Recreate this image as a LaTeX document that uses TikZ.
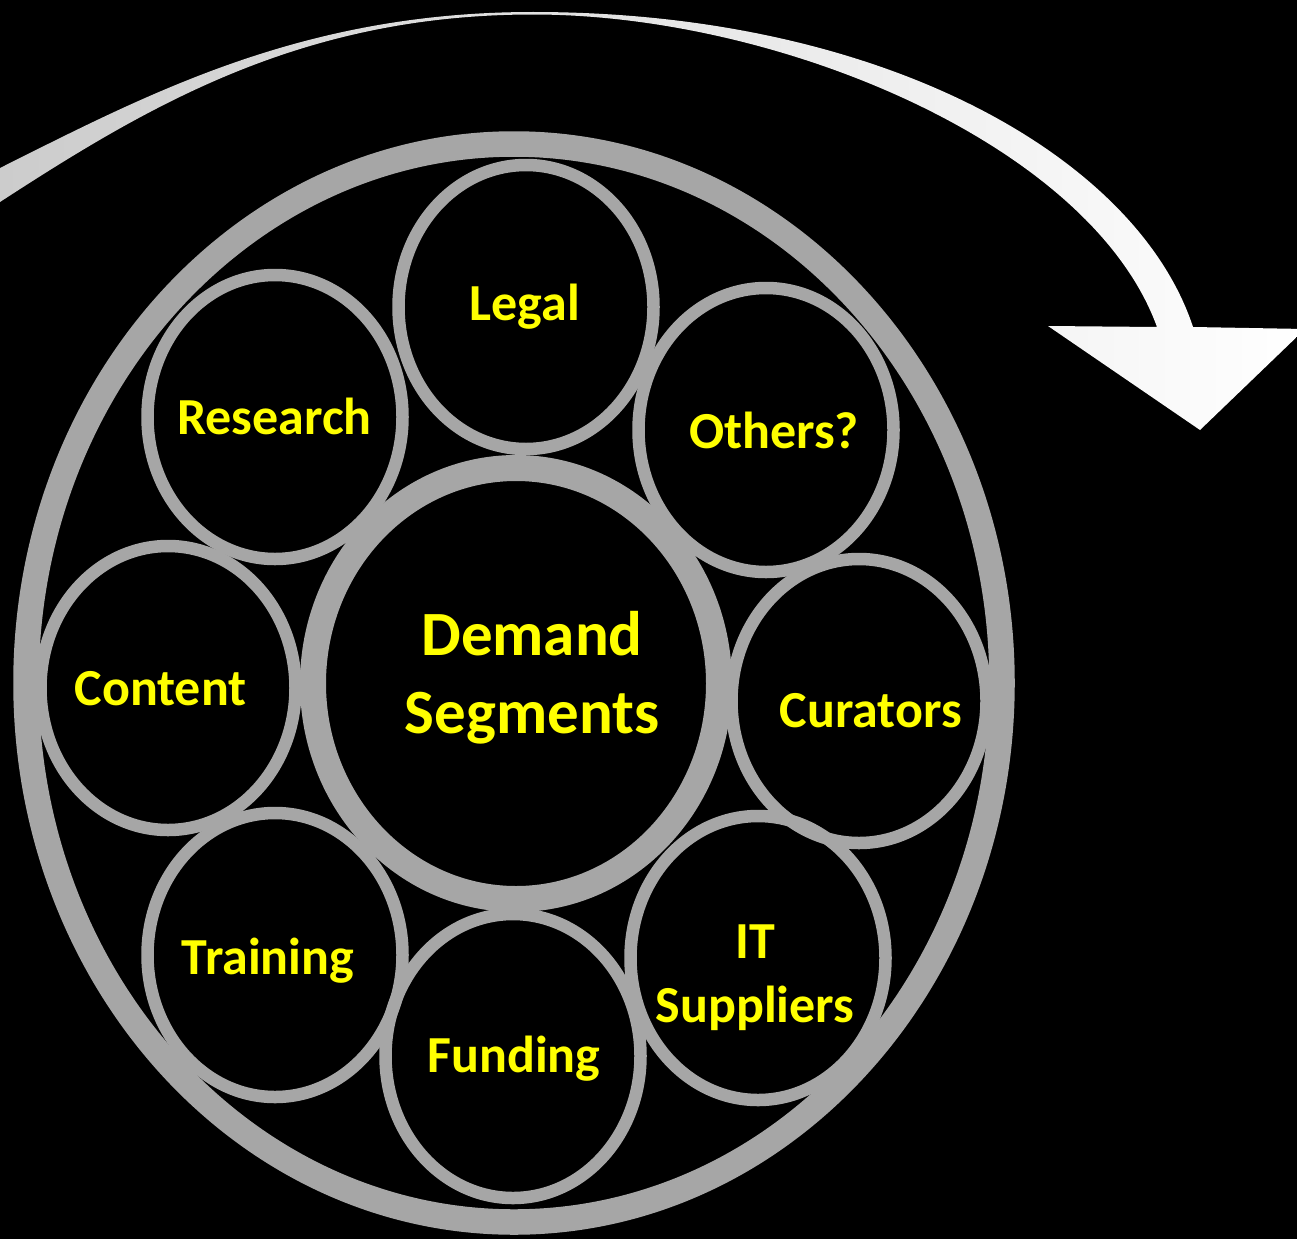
\documentclass[tikz,border=0pt]{standalone}
\usepackage{fontspec}
\setmainfont{Carlito}
\usetikzlibrary{shapes.geometric}
\definecolor{ringgray}{HTML}{A6A6A6}
\definecolor{lblyellow}{HTML}{FFFF00}
\definecolor{arrowgray}{HTML}{CCCCCC}
\begin{document}
\begin{tikzpicture}[x=1pt,y=-1pt,
  outerring/.style={ellipse, draw=ringgray, line width=25.5pt, minimum width=976pt, minimum height=1078pt, inner sep=0pt},
  hubring/.style={ellipse, draw=ringgray, line width=26pt, minimum width=406pt, minimum height=431pt, inner sep=0pt},
  segring/.style={ellipse, draw=ringgray, line width=12.5pt, minimum width=255pt, minimum height=284pt, inner sep=0pt},
  seglabel/.style={text=lblyellow, font=\fontsize{52}{64}\selectfont\bfseries, align=center, inner sep=0pt, anchor=base},
  hublabel/.style={text=lblyellow, font=\fontsize{63}{78}\selectfont\bfseries, align=center, inner sep=0pt, anchor=base},
]
\fill[black] (0,0) rectangle (1297,1239);
\useasboundingbox (0,0) rectangle (1297,1239);

% curved arrow
\shade[left color=arrowgray, middle color=white, right color=white]
  (0,168) .. controls (150,93) and (303,12) .. (533,12)
  .. controls (883,12) and (1137,157) .. (1193,327)
  -- (1305,329) -- (1200,430) -- (1048,326) -- (1157,327)
  .. controls (1091,145) and (780,14.5) .. (533,14.5)
  .. controls (303,14.5) and (150,104.5) .. (0,202) -- cycle;

% rings
\node[outerring] (outer) at (514,683) {};
\node[hubring] (hub) at (516,683.5) {};
\node[segring] (legal) at (526,307) {};
\node[segring] (others) at (766,430) {};
\node[segring] (curators) at (859,701) {};
\node[segring] (itsup) at (758,958) {};
\node[segring] (funding) at (513,1056) {};
\node[segring] (training) at (275,955) {};
\node[segring] (content) at (168,688) {};
\node[segring] (research) at (275,417) {};

% labels (anchor=base of a two-line node is the last line's baseline)
\node[hublabel] (hubT) at (532,733) {Demand\\Segments};
\node[seglabel] (legalT) at (525,320) {Legal};
\node[seglabel] (othersT) at (774,448) {Others?};
\node[seglabel] (curatorsT) at (871,727) {Curators};
\node[seglabel] (itsupT) at (755,1022) {IT\\Suppliers};
\node[seglabel] (fundingT) at (514,1072) {Funding};
\node[seglabel] (trainingT) at (268,974) {Training};
\node[seglabel] (contentT) at (160.5,705) {Content};
\node[seglabel] (researchT) at (274.5,434) {Research};
\end{tikzpicture}
\end{document}
